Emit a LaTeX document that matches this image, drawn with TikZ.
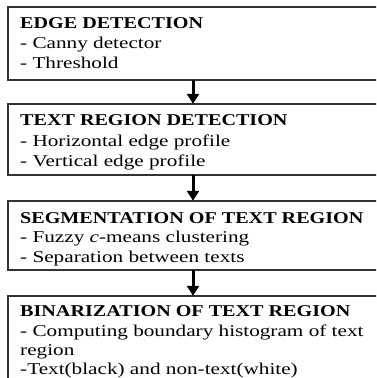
\documentclass[tikz,border=0pt]{standalone}
\usepackage{fontspec}
\setmainfont{Liberation Serif}[FakeStretch=1.22]
\newfontfamily\itemfont{Liberation Serif}[FakeStretch=1.285]
\usetikzlibrary{arrows.meta}
\begin{document}
\begin{tikzpicture}[x=1pt,y=-1pt,
  stage/.style={draw=black!80,line width=1.3pt,fill=none},
  title/.style={anchor=base west,inner sep=0pt,font=\fontsize{16.5}{19}\selectfont\bfseries},
  item/.style={anchor=base west,inner sep=0pt,font=\itemfont\fontsize{16.5}{19}\selectfont},
  flow/.style={line width=3pt,-{Triangle[width=12pt,length=10pt]}}]
\useasboundingbox (0,0) rectangle (376,378);
\clip (0,0) rectangle (376,378);
% boxes
\draw[stage] (8,7) rectangle (378,80);
\node[inner sep=0pt,minimum width=370pt,minimum height=73pt] (b1) at (193,43.5) {};
\draw[stage] (8,104) rectangle (378,175);
\node[inner sep=0pt,minimum width=370pt,minimum height=71pt] (b2) at (193,139.5) {};
\draw[stage] (8,201) rectangle (378,270);
\node[inner sep=0pt,minimum width=370pt,minimum height=69pt] (b3) at (193,235.5) {};
\draw[stage] (8,296) rectangle (378,395);
\node[inner sep=0pt,minimum width=370pt,minimum height=99pt] (b4) at (193,345.5) {};
% texts
\node[title] (t1) at (20,28) {EDGE DETECTION};
\node[item] (t1a) at (20,48) {- Canny detector};
\node[item] (t1b) at (20,68) {- Threshold};
\node[title] (t2) at (20,125) {TEXT REGION DETECTION};
\node[item] (t2a) at (20,146) {- Horizontal edge profile};
\node[item] (t2b) at (20,166) {- Vertical edge profile};
\node[title] (t3) at (20,223) {SEGMENTATION OF TEXT REGION};
\node[item] (t3a) at (20,242) {- Fuzzy \textit{c}-means clustering};
\node[item] (t3b) at (20,262) {- Separation between texts};
\node[title] (t4) at (20,316) {BINARIZATION OF TEXT REGION};
\node[item] (t4a) at (20,336) {- Computing boundary histogram of text};
\node[item] (t4b) at (20,355) {region};
\node[item] (t4c) at (20,374) {-Text(black) and non-text(white)};
% arrows
\draw[flow] (b1.south) -- (b2.north);
\draw[flow] (b2.south) -- (b3.north);
\draw[flow] (b3.south) -- (b4.north);
\end{tikzpicture}
\end{document}
